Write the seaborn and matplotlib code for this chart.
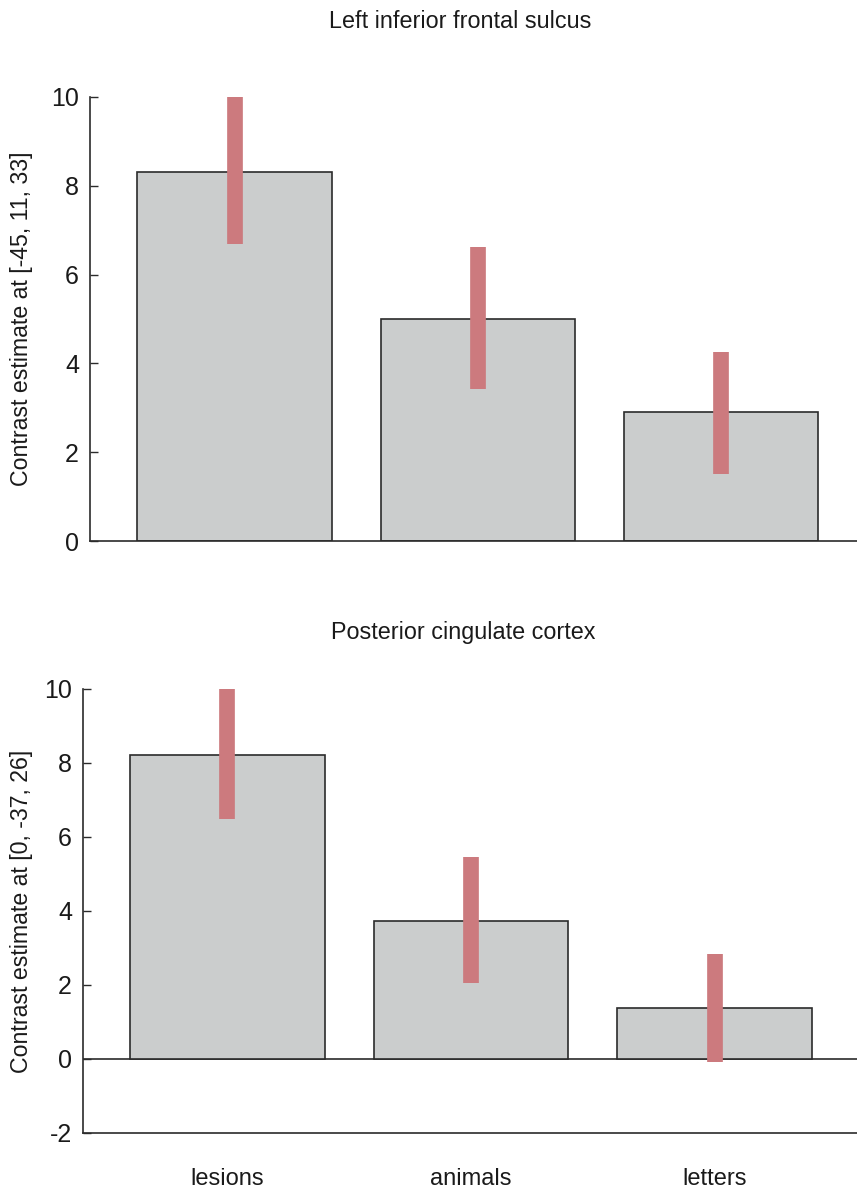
import pandas as pd
import matplotlib
matplotlib.use('Agg')
import matplotlib.pyplot as plt
import seaborn as sns

# Data
conditions = ['lesions', 'animals', 'letters']

ifs_means = [8.32, 5.01, 2.90]
ifs_lo = [6.68, 3.42, 1.51]
ifs_hi = [10.0, 6.62, 4.26]

pcc_means = [8.22, 3.72, 1.38]
pcc_lo = [6.50, 2.05, -0.08]
pcc_hi = [10.0, 5.45, 2.84]

titles = ['Left inferior frontal sulcus', 'Posterior cingulate cortex']
ylabels = ['Contrast estimate at [-45, 11, 33]', 'Contrast estimate at [0, -37, 26]']

bar_color = '#cbcdcd'
err_color = '#cc7a7e'
edge_color = '#2b2b2b'
text_color = '#1a1a1a'

sns.set_style('white')
plt.rcParams['font.family'] = ['Liberation Sans', 'DejaVu Sans']

fig = plt.figure(figsize=(8.57, 11.92), dpi=100)
W, H = 857, 1192

def add_panel(left, top, bottom, xlim, ylim, yticks, means, lo, hi):
    ax = fig.add_axes([left / W, 1 - bottom / H, 1 - left / W, (bottom - top) / H])
    df = pd.DataFrame({'condition': conditions, 'value': means})
    sns.barplot(data=df, x='condition', y='value', color=bar_color, saturation=1,
                edgecolor=edge_color, linewidth=1.2, width=0.8, ax=ax, zorder=2)
    ax.vlines(range(len(conditions)), lo, hi, colors=err_color, linewidth=11.3,
              capstyle='butt', zorder=3)
    ax.set_xlim(*xlim)
    ax.set_ylim(*ylim)
    ax.set_yticks(yticks)
    ax.set_yticklabels([str(t) for t in yticks], fontsize=18, color=text_color)
    ax.tick_params(axis='y', direction='in', length=6, width=1, color=edge_color,
                   left=True, pad=8)
    ax.set_xlabel('')
    ax.set_ylabel('')
    for s in ['top', 'right']:
        ax.spines[s].set_visible(False)
    for s in ['left', 'bottom']:
        ax.spines[s].set_color(edge_color)
        ax.spines[s].set_linewidth(1.2)
    return ax

ax1 = add_panel(90, 97, 541, (-0.595, 2.56), (0, 10), [0, 2, 4, 6, 8, 10],
                ifs_means, ifs_lo, ifs_hi)
ax1.set_xticks([])

ax2 = add_panel(83, 689, 1133, (-0.593, 2.585), (-2, 10), [-2, 0, 2, 4, 6, 8, 10],
                pcc_means, pcc_lo, pcc_hi)
ax2.axhline(0, color=edge_color, linewidth=1.2, zorder=1)
ax2.set_xticks(range(len(conditions)))
ax2.set_xticklabels(conditions, fontsize=17, color=text_color)
ax2.tick_params(axis='x', length=0, pad=25)

fig.text(460 / W, 1 - 22 / H, titles[0], ha='center', va='center', fontsize=16.8, color=text_color)
fig.text(463 / W, 1 - 632 / H, titles[1], ha='center', va='center', fontsize=16.8, color=text_color)
fig.text(22 / W, 1 - 319 / H, ylabels[0], rotation=90, ha='center', va='center', fontsize=16.7, color=text_color)
fig.text(22 / W, 1 - 911 / H, ylabels[1], rotation=90, ha='center', va='center', fontsize=16.7, color=text_color)

fig.savefig('out.png', dpi=100)
